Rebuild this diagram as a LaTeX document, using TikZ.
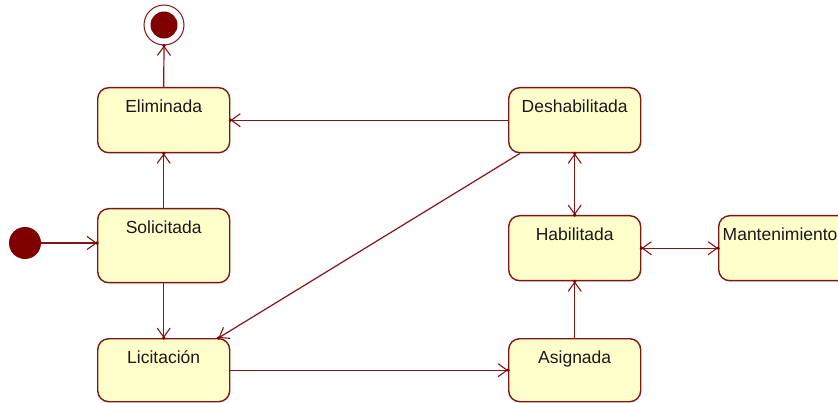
\documentclass[tikz,border=0pt]{standalone}
\usepackage{fontspec}
\setmainfont{Liberation Sans}
\usetikzlibrary{arrows.meta}
\definecolor{umlline}{RGB}{130,22,22}
\definecolor{umlfill}{RGB}{255,255,204}
\definecolor{umldot}{RGB}{128,0,0}
\tikzset{
  statebox/.style={draw=umlline, fill=umlfill, line width=1.4pt, rounded corners=11pt,
    minimum width=132pt, inner sep=0pt, anchor=north west, align=center,
    text height=25pt, text depth=#1-25pt, text=black!90,
    font=\fontsize{17.5}{20}\selectfont},
  arr/.style={draw=umlline, line width=1.2pt, -{Straight Barb[length=9pt,width=13pt,line width=1.1pt]}},
  biarr/.style={draw=umlline, line width=1.2pt, {Straight Barb[length=9pt,width=13pt,line width=1.1pt]}-{Straight Barb[length=9pt,width=13pt,line width=1.1pt]}},
  tipdot/.style={fill=umldot}
}
\begin{document}
\begin{tikzpicture}[x=1pt,y=-1pt]
\useasboundingbox (0,0) rectangle (838,403);
\clip (0,0) rectangle (838,403);
\fill[white] (0,0) rectangle (838,403);
% pseudo states
\node[circle, fill=umldot, minimum size=32pt, inner sep=0pt] (init) at (25,243) {};
\node[circle, draw=umlline, line width=1pt, fill=white, minimum size=40pt, inner sep=0pt] (fin) at (164,25) {};
\node[circle, fill=umldot, minimum size=27pt, inner sep=0pt] (finin) at (fin.center) {};
% states
\node[statebox=65pt] (elim) at (97,87) {Eliminada};
\node[statebox=74pt] (soli) at (97,208) {Solicitada};
\node[statebox=63pt] (lici) at (97,338) {Licitación};
\node[statebox=65pt] (desh) at (508,87) {Deshabilitada};
\node[statebox=65pt] (habi) at (508,215) {Habilitada};
\node[statebox=63pt] (asig) at (508,338) {Asignada};
\node[statebox=65pt, text width=124pt, inner xsep=4pt, align=left] (mant) at (718,215) {Mantenimiento};
% transitions
\draw[arr] (init.east) -- (init.east -| soli.west);
\draw[arr] (soli.north) -- (elim.south);
\draw[arr] (elim.north) -- (fin.south);
\draw[arr] (desh.west) -- (elim.east);
\draw[arr] ([xshift=12pt]desh.south west) -- ([xshift=-12pt]lici.north east);
\draw[arr] (soli.south) -- (lici.north);
\draw[arr] (lici.east) -- (asig.west);
\draw[arr] (asig.north) -- (habi.south);
\draw[biarr] (desh.south) -- (habi.north);
\draw[biarr] (habi.east) -- (mant.west);
% dots at arrow tips
\foreach \p in {init.east -| soli.west, elim.south, fin.south, elim.east, lici.north, asig.west, habi.south, desh.south, habi.north, habi.east, mant.west}
  \fill[tipdot] (\p) circle (1.8pt);
\fill[tipdot] ([xshift=-12pt]lici.north east) circle (1.8pt);
\end{tikzpicture}
\end{document}
